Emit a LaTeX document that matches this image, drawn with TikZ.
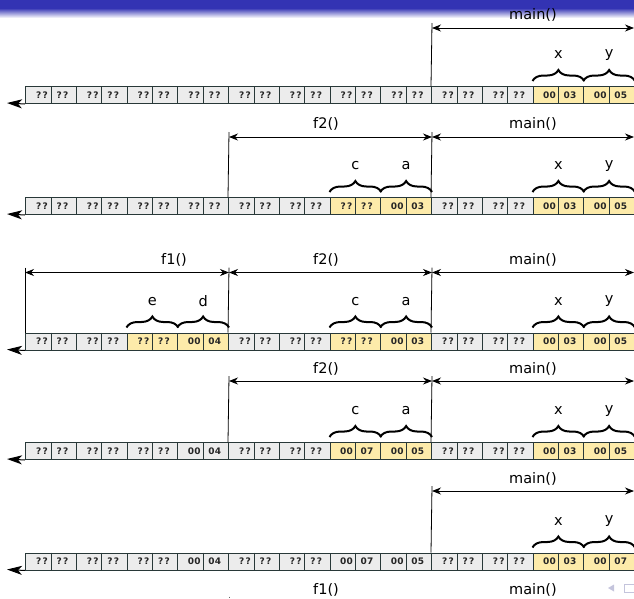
\documentclass[tikz,border=0pt]{standalone}
\usepackage{fontspec}
\setmainfont{DejaVu Sans}
\usetikzlibrary{arrows.meta,decorations.pathreplacing,calc}

\definecolor{cellgray}{RGB}{236,236,236}
\definecolor{cellyellow}{RGB}{253,235,170}
\definecolor{cellline}{RGB}{40,56,56}
\definecolor{barblue}{RGB}{51,51,179}
\definecolor{navgray}{RGB}{196,196,220}

% an unknown byte
\newcommand{\qmark}{?\kern1.3pt?}

\tikzset{
  pair/.style={draw=cellline, line width=1pt, minimum width=50.75pt,
    minimum height=17pt, inner sep=0pt, anchor=north west},
  g/.style={fill=cellgray},
  yl/.style={fill=cellyellow},
  celltext/.style={font=\fontsize{9}{10}\selectfont\bfseries, text=black!85, inner sep=0pt},
  dimline/.style={line width=0.8pt,
    {Stealth[length=9pt,width=7pt]}-{Stealth[length=9pt,width=7pt]}},
  guide/.style={line width=0.8pt},
  lbl/.style={font=\fontsize{14.5}{16}\selectfont, inner sep=0pt},
  membrace/.style={decorate, decoration={brace, amplitude=11pt}, line width=2pt},
  axis/.style={line width=1pt, -{Stealth[length=15pt,width=9pt,inset=4pt]}},
}

% one row of memory: name, top edge, list of index/fill/high/low
\newcommand{\memrow}[3]{%
  \foreach \k/\f/\a/\b in {#3} {
    \node[pair, \f] (#1p\k) at ({25+50.75*\k}, #2) {};
    \draw[cellline, line width=0.5pt] (#1p\k.north) -- (#1p\k.south);
    \node[celltext] (#1p\k a) at ($(#1p\k.west)+(17,0)$) {\a};
    \node[celltext] (#1p\k b) at ($(#1p\k.west)+(37.5,0)$) {\b};
  }
  \coordinate (#1tip) at (7, #2+17);
  \draw[axis] (#1p0.south west) -- (#1tip);
}

% brace over a pair with its variable name
\newcommand{\varbrace}[3]{% row, pair index, name
  \draw[membrace] ($(#1p#2.north west)+(0,-5)$) -- ($(#1p#2.north east)+(0,-5)$);
  \node[lbl] (#1v#2) at ($(#1p#2.north)+(0,-31)$) {#3};
}

% frame extent line: row, arrow y, left x, right x, label, label x, label y
\newcommand{\frameext}[7]{%
  \coordinate (#1L#3) at (#3, #2);
  \coordinate (#1R#4) at (#4, #2);
  \draw[dimline] (#1L#3) -- (#1R#4);
  \node[lbl] (#1f#3) at (#6, #7) {#5};
}

\begin{document}
\begin{tikzpicture}[x=1pt, y=-1pt]
\useasboundingbox (0,0) rectangle (634,598);

% title bar
\fill[barblue] (0,0) rectangle (634,8);
\shade[top color=barblue, bottom color=white] (0,8) rectangle (634,18);

% ---------- row 1 ----------
\memrow{ra}{86}{0/g/\qmark/\qmark,1/g/\qmark/\qmark,2/g/\qmark/\qmark,3/g/\qmark/\qmark,
  4/g/\qmark/\qmark,5/g/\qmark/\qmark,6/g/\qmark/\qmark,7/g/\qmark/\qmark,
  8/g/\qmark/\qmark,9/g/\qmark/\qmark,10/yl/00/03,11/yl/00/05}
\draw[guide] (432,23) -- (rap8.north west);
\frameext{ra}{28}{432}{634}{main()}{533}{15}
\varbrace{ra}{10}{x}
\varbrace{ra}{11}{y}

% ---------- row 2 ----------
\memrow{rb}{197}{0/g/\qmark/\qmark,1/g/\qmark/\qmark,2/g/\qmark/\qmark,3/g/\qmark/\qmark,
  4/g/\qmark/\qmark,5/g/\qmark/\qmark,6/yl/\qmark/\qmark,7/yl/00/03,
  8/g/\qmark/\qmark,9/g/\qmark/\qmark,10/yl/00/03,11/yl/00/05}
\draw[guide] (229,132) -- (rbp4.north west);
\draw[guide] (432,132) -- (rbp8.north west);
\frameext{rb}{137}{229}{432}{f2()}{326}{124}
\frameext{rb}{137}{432}{634}{main()}{533}{124}
\varbrace{rb}{6}{c}
\varbrace{rb}{7}{a}
\varbrace{rb}{10}{x}
\varbrace{rb}{11}{y}

% ---------- row 3 ----------
\memrow{rc}{332.5}{0/g/\qmark/\qmark,1/g/\qmark/\qmark,2/yl/\qmark/\qmark,3/yl/00/04,
  4/g/\qmark/\qmark,5/g/\qmark/\qmark,6/yl/\qmark/\qmark,7/yl/00/03,
  8/g/\qmark/\qmark,9/g/\qmark/\qmark,10/yl/00/03,11/yl/00/05}
\draw[guide] (25,267.5) -- (rcp0.north west);
\draw[guide] (229,267.5) -- (rcp4.north west);
\draw[guide] (432,267.5) -- (rcp8.north west);
\frameext{rc}{272.5}{25}{229}{f1()}{174}{260}
\frameext{rc}{272.5}{229}{432}{f2()}{326}{260}
\frameext{rc}{272.5}{432}{634}{main()}{533}{260}
\varbrace{rc}{2}{e}
\varbrace{rc}{3}{d}
\varbrace{rc}{6}{c}
\varbrace{rc}{7}{a}
\varbrace{rc}{10}{x}
\varbrace{rc}{11}{y}

% ---------- row 4 ----------
\memrow{rd}{442}{0/g/\qmark/\qmark,1/g/\qmark/\qmark,2/g/\qmark/\qmark,3/g/00/04,
  4/g/\qmark/\qmark,5/g/\qmark/\qmark,6/yl/00/07,7/yl/00/05,
  8/g/\qmark/\qmark,9/g/\qmark/\qmark,10/yl/00/03,11/yl/00/05}
\draw[guide] (229,376) -- (rdp4.north west);
\draw[guide] (432,376) -- (rdp8.north west);
\frameext{rd}{381}{229}{432}{f2()}{326}{369}
\frameext{rd}{381}{432}{634}{main()}{533}{369}
\varbrace{rd}{6}{c}
\varbrace{rd}{7}{a}
\varbrace{rd}{10}{x}
\varbrace{rd}{11}{y}

% ---------- row 5 ----------
\memrow{re}{552.5}{0/g/\qmark/\qmark,1/g/\qmark/\qmark,2/g/\qmark/\qmark,3/g/00/04,
  4/g/\qmark/\qmark,5/g/\qmark/\qmark,6/g/00/07,7/g/00/05,
  8/g/\qmark/\qmark,9/g/\qmark/\qmark,10/yl/00/03,11/yl/00/07}
\draw[guide] (432,486) -- (rep8.north west);
\frameext{re}{491}{432}{634}{main()}{533}{479}
\varbrace{re}{10}{x}
\varbrace{re}{11}{y}

% start of the next row's frame labels
\node[lbl] (rff1) at (326,590) {f1()};
\node[lbl] (rfmain) at (533,590) {main()};
\draw[guide, black!60] (229,596.5) -- (229,598);

% navigation symbols
\fill[navgray] (608,588) -- (614,584.5) -- (614,591.5) -- cycle;
\draw[navgray, line width=0.9pt] (624,584) rectangle (636,592);
\end{tikzpicture}
\end{document}
